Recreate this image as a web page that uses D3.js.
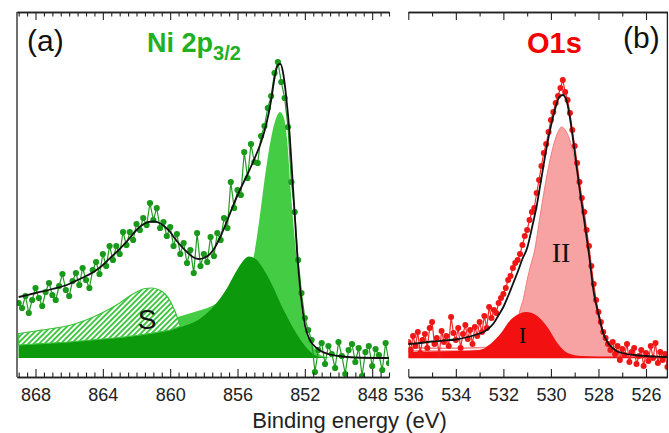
<!DOCTYPE html>
<html>
<head>
<meta charset="utf-8">
<script src="https://cdn.jsdelivr.net/npm/d3@7"></script>
<style>
  body { margin: 0; background: #fff; }
  svg text { font-family: "Liberation Sans", Arial, sans-serif; }
  .tick text { font-size: 18px; fill: #222; }
</style>
</head>
<body>
<div id="chart"></div>
<script>
// Ni 2p3/2 spectrum (binding energy eV, intensity arb. units)
const niData = [
  [869.0,55],[868.8,50],[868.6,62],[868.4,45],[868.2,58],[868.0,70],[867.8,60],[867.6,52],[867.4,66],[867.2,75],
  [867.0,63],[866.8,58],[866.6,72],[866.4,84],[866.2,68],[866.0,62],[865.8,77],[865.6,85],[865.4,73],[865.2,90],
  [865.0,78],[864.8,70],[864.6,88],[864.4,96],[864.2,84],[864.0,104],[863.8,92],[863.6,112],[863.4,98],[863.2,112],
  [863.0,104],[862.8,126],[862.6,113],[862.4,126],[862.2,118],[862.0,134],[861.8,128],[861.6,140],[861.4,133],[861.2,155],
  [861.0,138],[860.8,150],[860.6,130],[860.4,136],[860.2,122],[860.0,131],[859.8,112],[859.6,124],[859.4,104],[859.2,115],
  [859.0,95],[858.8,108],[858.6,85],[858.4,125],[858.2,92],[858.0,104],[857.8,96],[857.6,121],[857.4,102],[857.2,125],
  [857.0,118],[856.8,140],[856.6,130],[856.4,176],[856.2,150],[856.0,168],[855.8,163],[855.6,206],[855.4,180],[855.2,214],
  [855.0,196],[854.8,195],[854.6,222],[854.4,232],[854.2,250],[854.0,262],[853.8,285],[853.6,296],[853.4,276],[853.2,260],
  [853.0,231],[852.8,176],[852.6,146],[852.4,98],[852.2,65],[852.0,40],[851.8,28],[851.6,18],[851.4,-14],[851.2,8],
  [851.0,15],[850.8,-6],[850.6,12],[850.4,4],[850.2,-10],[850.0,16],[849.8,2],[849.6,-16],[849.4,8],[849.2,14],
  [849.0,-4],[848.8,10],[848.6,-18],[848.4,6],[848.2,12],[848.0,-8],[847.8,9],[847.6,3],[847.4,-12],[847.2,15],[847.0,-5]
];
const niFit = [
  [869.0,61],[868.0,65],[867.0,69],[866.0,74],[865.5,78],[865.0,82],[864.5,86.5],[864.0,93],[863.5,101],[863.0,109],
  [862.5,118],[862.0,128],[861.7,132.5],[861.3,136],[861.0,136.5],[860.7,135.5],[860.3,131],[860.0,126],[859.7,119],
  [859.3,111],[859.0,106],[858.6,100.5],[858.3,99],[858.0,100],[857.7,103],[857.4,109],[857.0,122],[856.6,138],
  [856.2,155],[855.8,170],[855.4,184],[855.0,199],[854.6,216],[854.3,233],[854.0,258],[853.8,280],[853.6,293],
  [853.45,294],[853.3,286],[853.1,260],[852.9,223],[852.75,183],[852.6,143],[852.45,103],[852.3,73],[852.15,50],
  [852.0,33],[851.7,18],[851.3,10],[851.0,6.5],[850.5,3.5],[850.0,2],[849.0,0.5],[847.0,0]
];
// main peak (light green), second peak (dark green), satellite S (hatched), background under S
const niPeak1 = [
  [869.0,14],[864.1,23],[861.5,30],[859.55,41],[857.17,55],[856.4,63],[855.5,80],[855.02,103],[854.72,136],
  [854.33,186],[853.93,226],[853.63,243],[853.48,246],[853.24,240],[853.04,216],[852.85,170],[852.66,130],
  [852.49,100],[852.31,68],[852.08,35],[851.49,11],[851.07,3],[850.5,0],[847.0,0]
];
const niPeak2 = [
  [869.0,13],[866.06,16],[864.09,19],[861.33,24],[859.36,31],[858.17,40],[857.4,52],[856.69,68],[856.1,86],
  [855.8,94],[855.33,101.5],[854.92,99],[854.5,90],[854.03,76],[853.26,48],[852.25,18],[851.66,6],[851.07,1],
  [850.2,0],[847.0,0]
];
const niSat = [
  [869.0,24.5],[868.0,27],[867.0,29.5],[866.0,32.5],[865.0,38],[864.0,45.5],[863.5,50],[863.0,55],[862.5,61],
  [862.0,66],[861.5,69.5],[861.1,70],[860.7,68.5],[860.3,64],[860.0,57],[859.7,46],[859.4,32]
];
const niBg = [
  [869.0,13],[868.0,14],[867.0,15],[866.0,16],[865.0,17.5],[864.0,19],[863.0,20.5],[862.0,22.5],[861.0,25],
  [860.0,28],[859.4,32]
];

// O1s spectrum
const oData = [
  [536.0,16],[535.9,8],[535.8,22],[535.7,12],[535.6,26],[535.5,5],[535.4,18],[535.3,24],[535.2,10],[535.1,30],
  [535.0,36],[534.9,14],[534.8,20],[534.7,3],[534.6,27],[534.5,16],[534.4,22],[534.3,12],[534.2,41],[534.1,25],
  [534.0,18],[533.9,30],[533.8,10],[533.7,24],[533.6,33],[533.5,19],[533.4,28],[533.3,14],[533.2,31],[533.1,22],
  [533.0,36],[532.9,26],[532.8,42],[532.7,30],[532.6,51],[532.5,40],[532.4,48],[532.3,45],[532.2,55],[532.1,60],
  [532.0,64],[531.9,70],[531.8,78],[531.7,82],[531.6,90],[531.5,95],[531.4,98],[531.3,104],[531.2,113],[531.1,122],
  [531.0,128],[530.9,138],[530.8,146],[530.7,150],[530.6,165],[530.5,178],[530.4,192],[530.3,205],[530.2,214],[530.1,226],
  [530.0,238],[529.9,246],[529.8,255],[529.7,262],[529.6,270],[529.5,278],[529.4,266],[529.3,258],[529.2,245],[529.1,228],
  [529.0,212],[528.9,195],[528.8,176],[528.7,160],[528.6,146],[528.5,128],[528.4,112],[528.3,92],[528.2,74],[528.1,58],
  [528.0,46],[527.9,36],[527.8,26],[527.7,20],[527.6,14],[527.5,8],[527.4,16],[527.3,4],[527.2,12],[527.1,-2],
  [527.0,9],[526.9,3],[526.8,14],[526.7,-4],[526.6,6],[526.5,10],[526.4,-6],[526.3,2],[526.2,8],[526.1,-8],
  [526.0,5],[525.9,-3],[525.8,12],[525.7,0],[525.6,15],[525.5,-5],[525.4,6],[525.3,-2],[525.2,4],[525.1,-9]
];
const oFit = [
  [536,14],[535.5,15],[535,16.5],[534.5,17.5],[534,18.5],[533.5,21],[533,24.5],[532.8,26.5],[532.6,30],[532.4,35],
  [532.2,43],[532.0,51],[531.8,62],[531.6,74],[531.4,86],[531.2,99],[531.0,110],[530.8,130],[530.6,152],[530.4,180],
  [530.2,208],[530.0,232],[529.8,251],[529.65,261],[529.5,263],[529.35,258],[529.2,240],[529.0,206],[528.8,170],
  [528.6,138],[528.4,104],[528.2,66],[528.0,44],[527.8,25],[527.6,15],[527.4,10],[527.2,6.5],[527.0,5],[526.5,3],
  [526.0,2],[525.5,1.3],[525.1,1]
];
const oPeakII = [
  [536,11],[535,10],[534,10],[533,10.5],[532.5,11.5],[532.0,15],[531.7,22],[531.45,34],[531.3,48],[531.15,60],
  [531.0,78],[530.85,93],[530.7,106],[530.45,143],[530.15,185],[529.9,212],[529.7,226],[529.55,231],[529.4,228],
  [529.25,221],[528.95,191],[528.67,145],[528.38,98],[528.1,51],[527.8,25],[527.45,11],[527.0,5],[526.2,2],[525.1,1]
];
const oPeakI = [
  [536,6],[535,6.5],[534,7],[533,8],[532.55,14],[532.1,25],[531.7,38],[531.35,44],[531.06,46],[530.8,45],
  [530.57,42],[530.15,31],[529.73,15],[529.3,5],[528.7,2],[528.0,1.5],[525.1,1.5]
];
const oBg = [[536,8.5],[535,8.5],[534,8.5],[533,9],[532.5,10]];

const niMajor = [868, 864, 860, 856, 852, 848];
const oMajor = [536, 534, 532, 530, 528, 526];
const xLabel = 'Binding energy (eV)';

const width = 669, height = 433;
const plotTop = 12, plotBottom = 377;

const svg = d3.select('#chart').append('svg').attr('width', width).attr('height', height);

const y = d3.scaleLinear().domain([-19, 346]).range([plotBottom, plotTop]);
const xNi = d3.scaleLinear().domain([869.1, 847.0]).range([17, 389]);
const xO = d3.scaleLinear().domain([536, 525.1]).range([408.3, 667.4]);

// hatch for satellite
const defs = svg.append('defs');
const pat = defs.append('pattern').attr('id', 'hatch').attr('patternUnits', 'userSpaceOnUse')
  .attr('width', 3.8).attr('height', 3.8).attr('patternTransform', 'rotate(45)');
pat.append('rect').attr('width', 3.8).attr('height', 3.8).attr('fill', '#fff');
pat.append('line').attr('x1', 0.9).attr('y1', 0).attr('x2', 0.9).attr('y2', 3.8)
  .attr('stroke', '#3cc43c').attr('stroke-width', 1.9);

function clip(id, x) {
  defs.append('clipPath').attr('id', id).append('rect')
    .attr('x', x.range()[0]).attr('y', plotTop)
    .attr('width', x.range()[1] - x.range()[0]).attr('height', plotBottom - plotTop);
}
clip('clipNi', xNi);
clip('clipO', xO);

function area(x, base) {
  return d3.area().x(d => x(d[0])).y0(y(base)).y1(d => y(d[1])).curve(d3.curveMonotoneX);
}
function line(x, curve) {
  return d3.line().x(d => x(d[0])).y(d => y(d[1])).curve(curve || d3.curveMonotoneX);
}

// ---- panel (a)
const gNi = svg.append('g').attr('clip-path', 'url(#clipNi)');
gNi.append('path').datum(niPeak1).attr('d', area(xNi, 0)).attr('fill', '#44cc44');
gNi.append('path').datum(niPeak2).attr('d', area(xNi, 0)).attr('fill', '#0c990c');
// bottom of hatch follows the background curve
const bgAt = d3.scaleLinear().domain(niBg.map(b => b[0])).range(niBg.map(b => b[1]));
gNi.append('path').datum(niSat)
  .attr('d', d3.area().x(d => xNi(d[0])).y1(d => y(d[1])).y0(d => y(bgAt(d[0]))).curve(d3.curveMonotoneX))
  .attr('fill', 'url(#hatch)').attr('stroke', '#3cc43c').attr('stroke-width', 1.2);

gNi.append('path').datum(niData).attr('d', line(xNi, d3.curveLinear))
  .attr('fill', 'none').attr('stroke', '#239a23').attr('stroke-width', 1.2);
gNi.selectAll('.pt').data(niData).enter().append('circle').attr('class', 'pt')
  .attr('cx', d => xNi(d[0])).attr('cy', d => y(d[1])).attr('r', 3.1).attr('fill', '#18991a');
gNi.append('path').datum(niFit).attr('d', line(xNi))
  .attr('fill', 'none').attr('stroke', '#111').attr('stroke-width', 1.8);

// ---- panel (b)
const gO = svg.append('g').attr('clip-path', 'url(#clipO)');
gO.append('path').datum(oPeakII).attr('d', area(xO, 0))
  .attr('fill', '#f7a3a3').attr('stroke', '#f07c7c').attr('stroke-width', 1);
gO.append('path').datum(oBg).attr('d', line(xO))
  .attr('fill', 'none').attr('stroke', '#fff').attr('stroke-width', 1.2);
gO.append('path').datum(oPeakI).attr('d', area(xO, 0)).attr('fill', '#f21010');
gO.append('path').datum(oData).attr('d', line(xO, d3.curveLinear))
  .attr('fill', 'none').attr('stroke', '#f02a2a').attr('stroke-width', 1.2);
gO.selectAll('.pt').data(oData).enter().append('circle').attr('class', 'pt')
  .attr('cx', d => xO(d[0])).attr('cy', d => y(d[1])).attr('r', 3).attr('fill', '#f01616');
gO.append('path').datum(oFit).attr('d', line(xO))
  .attr('fill', 'none').attr('stroke', '#111').attr('stroke-width', 1.8);

// ---- axes
function drawAxes(x, major, step, sideX) {
  const d = x.domain();
  const minor = d3.range(Math.floor(d[0] / step) * step, d[1] - 1e-6, -step)
    .filter(v => v <= d[0] + 1e-6 && v >= d[1] - 1e-6 && !major.includes(Math.round(v * 10) / 10));
  svg.append('g').attr('transform', 'translate(0,' + plotBottom + ')')
    .call(d3.axisBottom(x).tickValues(major).tickSizeInner(-8).tickSizeOuter(0).tickPadding(11).tickFormat(d3.format('d')));
  svg.append('g').attr('transform', 'translate(0,' + plotBottom + ')')
    .call(d3.axisBottom(x).tickValues(minor).tickSizeInner(-4.5).tickSizeOuter(0).tickFormat(''));
  svg.append('g').attr('transform', 'translate(0,' + plotTop + ')')
    .call(d3.axisTop(x).tickValues(major).tickSizeInner(-8).tickSizeOuter(0).tickFormat(''));
  svg.append('g').attr('transform', 'translate(0,' + plotTop + ')')
    .call(d3.axisTop(x).tickValues(minor).tickSizeInner(-4.5).tickSizeOuter(0).tickFormat(''));
  svg.append('line').attr('x1', sideX).attr('x2', sideX).attr('y1', plotTop).attr('y2', plotBottom)
    .attr('stroke', '#222').attr('stroke-width', 1.3);
}
drawAxes(xNi, niMajor, 0.5, 17);
drawAxes(xO, oMajor, 1, 667.4);
svg.selectAll('.domain').attr('stroke', '#222').attr('stroke-width', 1.3);
svg.selectAll('.tick line').attr('stroke', '#222').attr('stroke-width', 1.1);

// ---- texts
svg.append('text').attr('x', 27).attr('y', 51).attr('font-size', 30).attr('fill', '#111').text('(a)');
const tNi = svg.append('text').attr('x', 147).attr('y', 52).attr('font-size', 27)
  .attr('font-weight', 'bold').attr('fill', '#22b022');
tNi.append('tspan').text('Ni 2p');
tNi.append('tspan').attr('dy', 8).attr('font-size', 20).text('3/2');
svg.append('text').attr('x', 527).attr('y', 53).attr('font-size', 29)
  .attr('font-weight', 'bold').attr('fill', '#f20000').text('O1s');
svg.append('text').attr('x', 623).attr('y', 48).attr('font-size', 30).attr('fill', '#111').text('(b)');
svg.append('text').attr('x', 147).attr('y', 329).attr('font-size', 28).attr('text-anchor', 'middle')
  .attr('fill', '#111').text('S');
svg.append('text').attr('x', 561).attr('y', 262).attr('font-size', 28).attr('text-anchor', 'middle')
  .style('font-family', '"Liberation Serif", "Times New Roman", serif').attr('fill', '#111').text('II');
svg.append('text').attr('x', 522.5).attr('y', 343).attr('font-size', 23).attr('text-anchor', 'middle')
  .style('font-family', '"Liberation Serif", "Times New Roman", serif').attr('fill', '#111').text('I');
svg.append('text').attr('x', 349.5).attr('y', 428).attr('font-size', 22).attr('text-anchor', 'middle')
  .attr('fill', '#222').text(xLabel);
</script>
</body>
</html>
